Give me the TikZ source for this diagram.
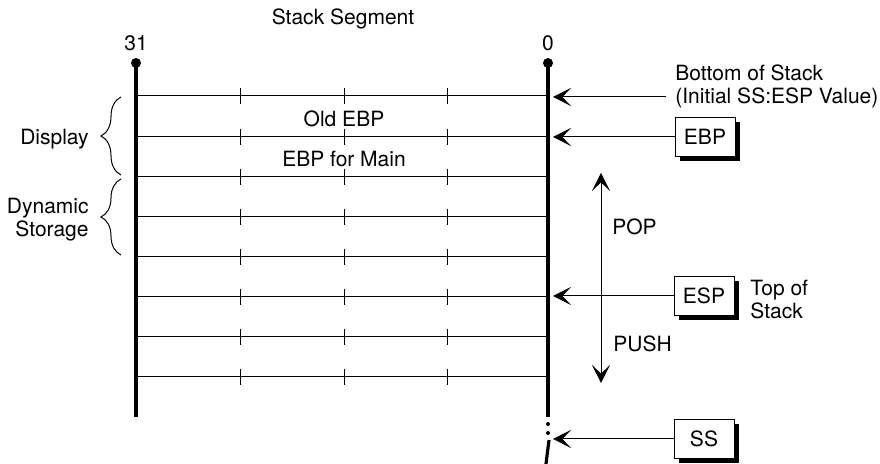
\documentclass[tikz,border=0pt]{standalone}
\usepackage{fontspec}
\setmainfont{TeX Gyre Heros}
\usetikzlibrary{positioning,arrows.meta,shadows,decorations.pathreplacing}
\tikzset{
	regbox/.style={draw,fill=white,line width=0.5pt,minimum width=30pt,minimum height=19.5pt,inner sep=0pt,
		drop shadow={shadow xshift=2.3pt,shadow yshift=-2.3pt,fill=black,opacity=1}},
	ptr/.style={-{Stealth[length=9pt,width=9pt,inset=4.3pt]},line width=0.5pt},
	bar/.style={line width=1.6pt},
	row/.style={line width=0.5pt},
	lbl/.style={inner sep=0pt},
	curly/.style={decorate,decoration={brace,amplitude=10pt},line width=0.5pt},
}

\begin{document}
\begin{tikzpicture}[x=0.5pt,y=-0.5pt,font=\fontsize{10.5pt}{11.5pt}\selectfont]
	\useasboundingbox (0,0) rectangle (880,464);
	\node[lbl] (title) at (343,19) {Stack Segment};
	\node[lbl] (msb) at (136,43) {31};
	\node[lbl] (lsb) at (548,43) {0};
	\fill (136,63) circle (2.5pt);
	\fill (548,63) circle (2.5pt);
	\draw[bar] (136,63) -- (136,417);
	\draw[bar] (548,63) -- (548,417);
	\fill (548,424) circle (1pt);
	\fill (548,433) circle (1pt);
	\draw[bar] (549,440) -- (546,464);
	\foreach \y in {96,137,177,217,257,297,337,377} {
		\draw[row] (136,\y) -- (548,\y);
		\foreach \x in {240,344,447}
			\draw[row] (\x,\y-8) -- (\x,\y+8);
	}
	\node[lbl] (oldebp) at (344,119) {Old EBP};
	\node[lbl] (mainebp) at (344,159) {EBP for Main};
	\draw[curly] (121,175) -- (121,97);
	\draw[curly] (121,255) -- (121,179);
	\node[lbl,anchor=east] (display) at (89,139) {Display};
	\node[lbl,anchor=east,align=right] (dynamic) at (89,220) {Dynamic\\Storage};
	\node[lbl,anchor=west,align=left] (bottom) at (675,86) {Bottom of Stack\\(Initial SS:ESP Value)};
	\coordinate (bottomstart) at (666,97);
	\coordinate (bottomend) at (553,97);
	\draw[ptr] (bottomstart) -- (bottomend);
	\node[regbox] (ebp) at (705,137) {EBP};
	\coordinate (ebpend) at (553,137);
	\draw[ptr] (ebp) -- (ebpend);
	\node[regbox] (esp) at (704,296) {ESP};
	\coordinate (espend) at (553,296);
	\draw[ptr] (esp) -- (espend);
	\node[lbl,anchor=west,align=left] (top) at (750,300) {Top of\\Stack};
	\node[regbox] (ss) at (704,439) {SS};
	\coordinate (ssend) at (553,439);
	\draw[ptr] (ss) -- (ssend);
	\coordinate (popend) at (601,173);
	\coordinate (pushend) at (601,383);
	\draw[line width=0.5pt,{Stealth[length=9pt,width=9pt,inset=4.3pt]}-{Stealth[length=9pt,width=9pt,inset=4.3pt]}] (popend) -- (pushend);
	\node[lbl,anchor=west] (pop) at (612,227) {POP};
	\node[lbl,anchor=west] (push) at (613,344) {PUSH};
\end{tikzpicture}
\end{document}
